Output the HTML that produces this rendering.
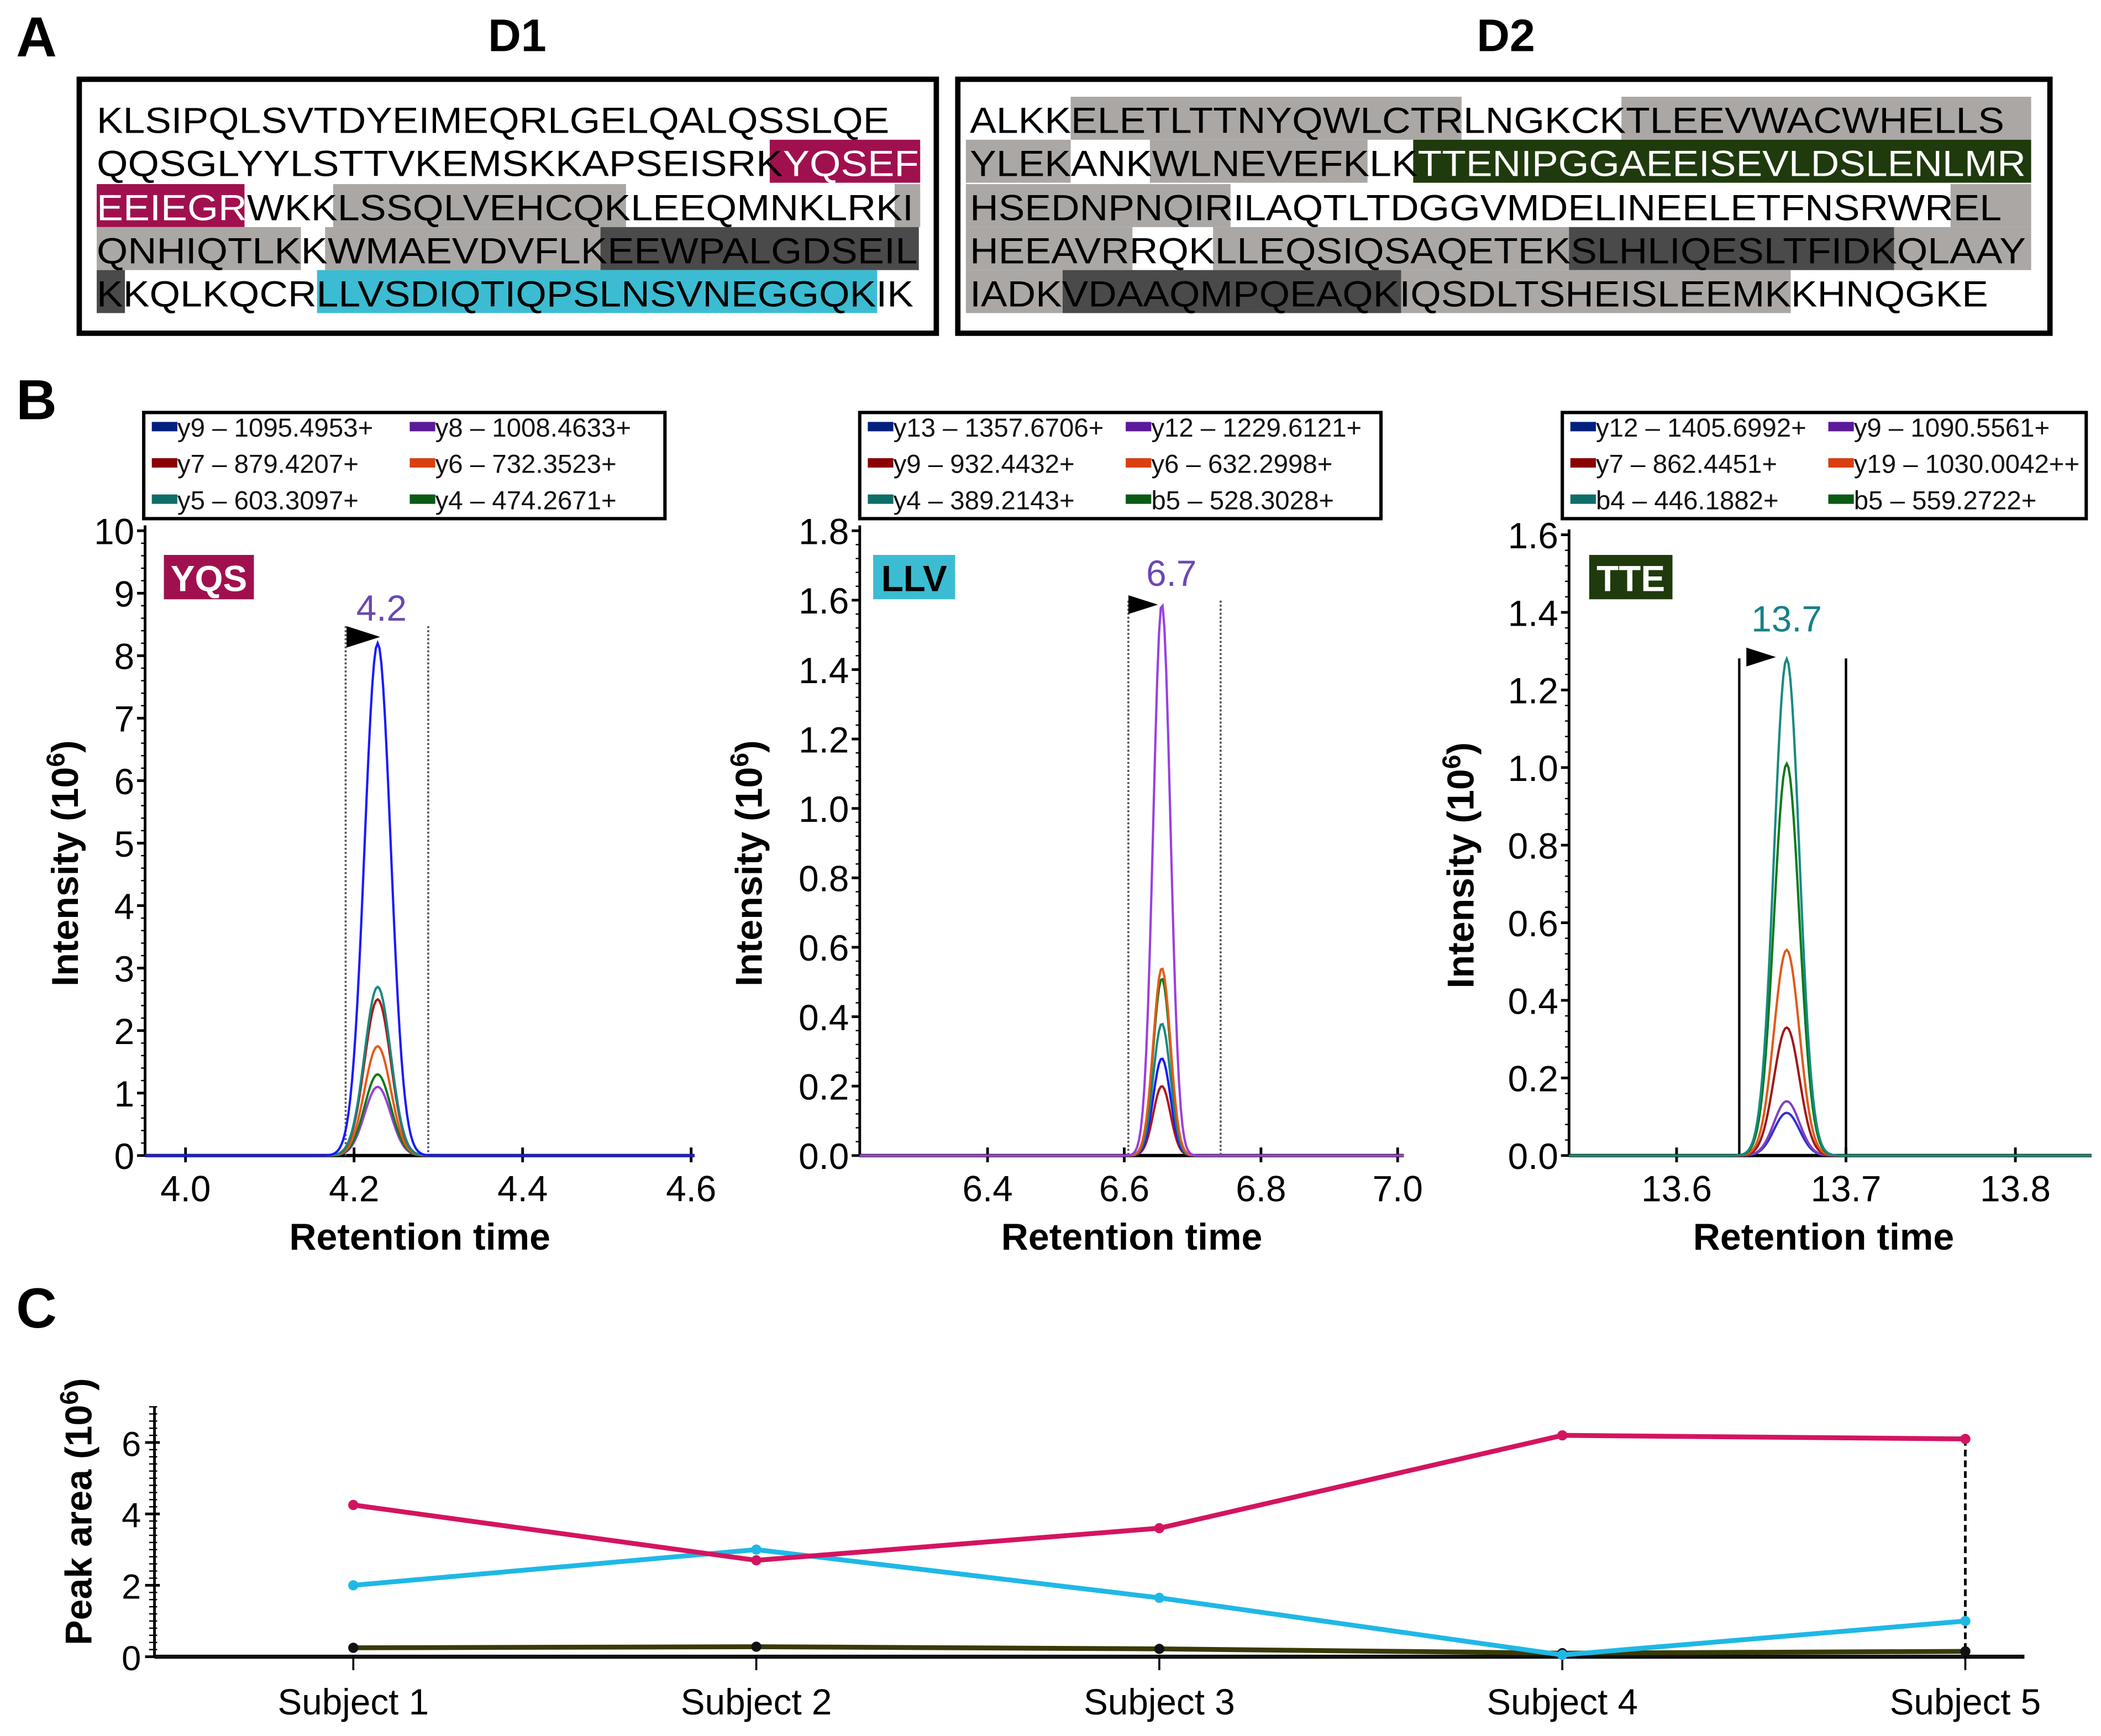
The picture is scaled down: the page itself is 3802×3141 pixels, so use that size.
<!DOCTYPE html>
<html><head><meta charset="utf-8">
<style>
html,body{margin:0;padding:0;background:#fff;}
svg{display:block;}
text{font-family:"Liberation Sans",Arial,sans-serif;}
</style></head>
<body>
<svg id="fig" xmlns="http://www.w3.org/2000/svg" width="3802" height="3141" viewBox="0 0 1564 1292" preserveAspectRatio="none">
<rect x="0" y="0" width="1564" height="1292" fill="#fff"/>
<g id="panelA">
  <text x="12" y="42" font-size="42" font-weight="bold">A</text>
  <text x="385" y="38" font-size="34" font-weight="bold" text-anchor="middle">D1</text>
  <text x="1121" y="38" font-size="34" font-weight="bold" text-anchor="middle">D2</text>
  <rect x="59" y="59" width="638" height="189" fill="none" stroke="#000" stroke-width="4"/>
  <rect x="713" y="59" width="813" height="189" fill="none" stroke="#000" stroke-width="4"/>
  <g id="hl"></g>
  <g id="seq"></g>
</g>
<g id="panelB">
  <text x="12" y="312" font-size="42" font-weight="bold">B</text>
</g>
<g id="panelC">
  <text x="12" y="988" font-size="42" font-weight="bold">C</text>
</g>
</svg>
<script>
const NS='http://www.w3.org/2000/svg';
function mk(tag,attrs,parent){const e=document.createElementNS(NS,tag);for(const k in attrs)e.setAttribute(k,attrs[k]);parent.appendChild(e);return e;}

// ---------- Panel A sequences ----------
const d1Lines=["KLSIPQLSVTDYEIMEQRLGELQALQSSLQE","QQSGLYYLSTTVKEMSKKAPSEISRKYQSEF","EEIEGRWKKLSSQLVEHCQKLEEQMNKLRKI","QNHIQTLKKWMAEVDVFLKEEWPALGDSEIL","KKQLKQCRLLVSDIQTIQPSLNSVNEGGQKIK"];
const d2Lines=["ALKKELETLTTNYQWLCTRLNGKCKTLEEVWACWHELLS","YLEKANKWLNEVEFKLKTTENIPGGAEEISEVLDSLENLMR","HSEDNPNQIRILAQTLTDGGVMDELINEELETFNSRWREL","HEEAVRRQKLLEQSIQSAQETEKSLHLIQESLTFIDKQLAAY","IADKVDAAQMPQEAQKIQSDLTSHEISLEEMKKHNQGKE"];
const rowTop=[72,104,137,169,201];
const hlG=document.getElementById('hl');
const seqG=document.getElementById('seq');
const GRAY='#aaa7a5',DARK='#4a4a4a',MAG='#a0104e',CYAN='#3cbcd2',GRN='#1f3a0c';
const hls=[
 [573,685,1,MAG],[72,182,2,MAG],[248,466,2,GRAY],[666,685,2,GRAY],
 [72,224,3,GRAY],[242,447,3,GRAY],[447,684,3,DARK],[72,93,4,DARK],[236,653,4,CYAN],
 [797,1088,0,GRAY],[1207,1512,0,GRAY],[719,797,1,GRAY],[856,1018,1,GRAY],[1052,1512,1,GRN],
 [719,916,2,GRAY],[1452,1512,2,GRAY],[719,843,3,GRAY],[903,1170,3,GRAY],[1168,1410,3,DARK],[1410,1512,3,GRAY],
 [719,791,4,GRAY],[791,1043,4,DARK],[1043,1333,4,GRAY]
];
hls.forEach(h=>{
 const r=mk('rect',{x:h[0],y:rowTop[h[2]],width:h[1]-h[0],height:32,fill:h[3]},hlG);
 
 
});
function seqLines(lines,x0,ends,white){
 lines.forEach((s,i)=>{
  const t=mk('text',{x:x0,y:rowTop[i]+27,'font-size':27,textLength:ends[i]-x0,lengthAdjust:'spacingAndGlyphs'},seqG);
  
  
  const w=white[i];
  if(!w){t.textContent=s;return;}
  w.forEach(seg=>{const ts=mk('tspan',seg[2]?{fill:'#fff'}:{},t);ts.textContent=s.slice(seg[0],seg[1]);});
 });
}
seqLines(d1Lines,72,[662,684,680,683,680],[null,[[0,26,0],[26,31,1]],[[0,6,1],[6,31,0]],null,null]);
seqLines(d2Lines,722,[1492,1508,1490,1508,1480],[null,[[0,17,0],[17,41,1]],null,null,null]);

// ---------- Panel B chromatograms ----------
const c1Labels=["y9 – 1095.4953+","y8 – 1008.4633+","y7 – 879.4207+","y6 – 732.3523+","y5 – 603.3097+","y4 – 474.2671+"];
const c1Heights=[8.2,1.1,2.5,1.75,2.7,1.3];
const c1Colors=["#1a1aff","#9a3fe0","#b01818","#e85a1a","#168a80","#0c7a1a"];
const c2Labels=["y13 – 1357.6706+","y12 – 1229.6121+","y9 – 932.4432+","y6 – 632.2998+","y4 – 389.2143+","b5 – 528.3028+"];
const c2Heights=[0.28,1.59,0.2,0.54,0.38,0.51];
const c2Colors=["#1a1aff","#9a3fe0","#b01818","#e85a1a","#168a80","#0c7a1a"];
const c3Labels=["y12 – 1405.6992+","y9 – 1090.5561+","y7 – 862.4451+","y19 – 1030.0042++","b4 – 446.1882+","b5 – 559.2722+"];
const c3Heights=[0.11,0.14,0.33,0.53,1.28,1.01];
const c3Colors=["#3030d0","#8040c0","#a01818","#e05a1a","#168a80","#0c7a1a"];
const swatch=["#002080","#5a1a9a","#8b0000","#d84010","#0f6e68","#0a5a14"];
const c1XTicks=["4.0","4.2","4.4","4.6"], c2XTicks=["6.4","6.6","6.8","7.0"], c3XTicks=["13.6","13.7","13.8"];
const c1YTicks=[0,1,2,3,4,5,6,7,8,9,10], c2YTicks=[0,0.2,0.4,0.6,0.8,1.0,1.2,1.4,1.6,1.8], c3YTicks=[0,0.2,0.4,0.6,0.8,1.0,1.2,1.4,1.6];

const charts=[
 {name:'yqs',labels:c1Labels,h:c1Heights,col:c1Colors,xt:c1XTicks,yt:c1YTicks,dec:0,ax0:108,ax1:517,xv0:3.952,xv1:4.604,yv1:10,yTop:395,center:4.228,sig:0.0155,minor:0.2,titleX:58,
  leg:[107,307,388],tag:['YQS',122,189,MAG,'#fff'],apexLabel:['4.2','#6a48b0',284,462],arrow:[258,466,283,482],bounds:[4.19,4.288],boundY:466,boundStyle:'dot',order:[1,5,3,2,4,0]},
 {name:'llv',labels:c2Labels,h:c2Heights,col:c2Colors,xt:c2XTicks,yt:c2YTicks,dec:1,ax0:640,ax1:1045,xv0:6.213,xv1:7.009,yv1:1.8,yTop:395,center:6.655,sig:0.0125,minor:0.04,titleX:567,
  leg:[640,307,388],tag:['LLV',650,711,CYAN,'#000'],apexLabel:['6.7','#6a48b0',872,436],arrow:[840,443,862,457],bounds:[6.606,6.741],boundY:447,boundStyle:'dot',order:[2,0,4,5,3,1]},
 {name:'tte',labels:c3Labels,h:c3Heights,col:c3Colors,xt:c3XTicks,yt:c3YTicks,dec:1,ax0:1168,ax1:1557,xv0:13.5365,xv1:13.845,yv1:1.6,yTop:398,center:13.665,sig:0.0075,minor:0.04,titleX:1097,
  leg:[1163,307,390],tag:['TTE',1183,1245,GRN,'#fff'],apexLabel:['13.7','#17808a',1330,470],arrow:[1300,482,1322,496],bounds:[13.637,13.7],boundY:490,boundStyle:'solid',order:[0,1,2,3,5,4]}
];
const pB=document.getElementById('panelB');
const Y0=860;
charts.forEach(c=>{
 const g=mk('g',{},pB);
 
 
 const X=v=>c.ax0+(v-c.xv0)/(c.xv1-c.xv0)*(c.ax1-c.ax0);
 const Y=v=>Y0-v/c.yv1*(Y0-c.yTop);
 const lb=mk('rect',{x:c.leg[0],y:c.leg[1],width:c.leg[2],height:79,fill:'#fff',stroke:'#000','stroke-width':2.5},g);
 
 
 c.labels.forEach((l,i)=>{
  const cx=c.leg[0]+6+(i%2)*192, cy=c.leg[1]+11+Math.floor(i/2)*27;
  const sw=mk('rect',{x:cx,y:cy-4,width:19,height:7,fill:swatch[i]},g);
  
  
  const t=mk('text',{x:cx+19,y:cy+7,'font-size':19.5,fill:'#111'},g);
  
  
  t.textContent=l;
 });
 const ya=mk('line',{x1:c.ax0,y1:c.yTop-4,x2:c.ax0,y2:Y0,stroke:'#000','stroke-width':2},g);
 
 
 const xa=mk('line',{x1:c.ax0,y1:Y0,x2:c.ax1,y2:Y0,stroke:'#000','stroke-width':2.5},g);
 
 
 for(let v=0;v<=c.yv1+1e-9;v+=c.minor){
  mk('line',{x1:c.ax0-3,y1:Y(v),x2:c.ax0,y2:Y(v),stroke:'#000','stroke-width':1},g);
 }
 c.yt.forEach(v=>{
  mk('line',{x1:c.ax0-6,y1:Y(v),x2:c.ax0,y2:Y(v),stroke:'#000','stroke-width':2},g);
  const t=mk('text',{x:c.ax0-8,y:Y(v)+10,'font-size':27,'text-anchor':'end'},g);
  
  
  t.textContent=v.toFixed(c.dec);
 });
 c.xt.forEach(s=>{
  const v=parseFloat(s);
  mk('line',{x1:X(v),y1:Y0-6,x2:X(v),y2:Y0+5,stroke:'#000','stroke-width':2},g);
  const t=mk('text',{x:X(v),y:Y0+34,'font-size':27,'text-anchor':'middle'},g);
  
  
  t.textContent=s;
 });
 const xt=mk('text',{x:(c.ax0+c.ax1)/2+(c.name==='tte'?-5:0),y:930,'font-size':28,'font-weight':'bold','text-anchor':'middle'},g);
 
 
 xt.textContent='Retention time';
 const yx=c.titleX, yy=(c.yTop+Y0)/2+15;
 const yt=mk('text',{x:yx,y:yy,'font-size':28,'font-weight':'bold','text-anchor':'middle',transform:`rotate(-90 ${yx} ${yy})`},g);
 
 
 yt.innerHTML='Intensity (10<tspan dy="-10" font-size="19">6</tspan><tspan dy="10">)</tspan>';
 const tr=mk('rect',{x:c.tag[1],y:413,width:c.tag[2]-c.tag[1],height:33,fill:c.tag[3]},g);
 
 
 const tt=mk('text',{x:(c.tag[1]+c.tag[2])/2,y:440,'font-size':27,'font-weight':'bold','text-anchor':'middle',fill:c.tag[4]},g);
 
 
 tt.textContent=c.tag[0];
 c.bounds.forEach(b=>{
  const l=mk('line',{x1:X(b),y1:c.boundY,x2:X(b),y2:Y0,stroke:c.boundStyle==='dot'?'#555':'#000','stroke-width':c.boundStyle==='dot'?1.5:1.8,'stroke-dasharray':c.boundStyle==='dot'?'1.5 1.5':'none'},g);
  
  
 });
 c.order.forEach(i=>{
  const hv=c.h[i];
  let d='';
  const N=300;
  for(let k=0;k<=N;k++){
   const xv=c.xv0+(c.xv1-c.xv0)*k/N;
   const yv=hv*Math.exp(-0.5*Math.pow((xv-c.center)/c.sig,2));
   d+=(k?'L':'M')+X(xv).toFixed(2)+' '+Y(yv).toFixed(2);
  }
  const p=mk('path',{d:d,fill:'none',stroke:c.col[i],'stroke-width':1.7},g);
  
  
 });
 const a=c.arrow;
 const ar=mk('polygon',{points:`${a[0]},${a[1]} ${a[2]},${(a[1]+a[3])/2} ${a[0]},${a[3]}`,fill:'#000'},g);
 
 
 const al=mk('text',{x:c.apexLabel[2],y:c.apexLabel[3],'font-size':27,'text-anchor':'middle',fill:c.apexLabel[1]},g);
 
 
 al.textContent=c.apexLabel[0];
});

// ---------- Panel C line chart ----------
const subjects=["Subject 1","Subject 2","Subject 3","Subject 4","Subject 5"];
const yqsArea=[4.25,2.7,3.6,6.2,6.1];
const llvArea=[2.0,3.0,1.65,0.05,1.0];
const tteArea=[0.25,0.28,0.22,0.1,0.15];
const cYTicks=[0,2,4,6];
const pC=document.getElementById('panelC');
const cx0=115,cx1=1507,cy0=1233,cyTop=1047,cyMax=7.0;
const CX=i=>263+i*300;
const CY=v=>cy0-v/cyMax*(cy0-cyTop);
const ya=mk('line',{x1:cx0,y1:cyTop,x2:cx0,y2:cy0,stroke:'#000','stroke-width':2},pC);


for(let v=0;v<=cyMax+1e-9;v+=0.2){mk('line',{x1:cx0-4,y1:CY(v),x2:cx0+2,y2:CY(v),stroke:'#000','stroke-width':1},pC);}
cYTicks.forEach(v=>{
 mk('line',{x1:cx0-7,y1:CY(v),x2:cx0+4,y2:CY(v),stroke:'#000','stroke-width':2},pC);
 const t=mk('text',{x:cx0-10,y:CY(v)+10,'font-size':26,'text-anchor':'end'},pC);
 
 
 t.textContent=v;
});
const xa=mk('line',{x1:cx0,y1:cy0,x2:cx1,y2:cy0,stroke:'#111','stroke-width':3},pC);


subjects.forEach((s,i)=>{
 mk('line',{x1:CX(i),y1:cy0,x2:CX(i),y2:cy0+10,stroke:'#000','stroke-width':1.5},pC);
 const t=mk('text',{x:CX(i),y:1276,'font-size':27,'text-anchor':'middle'},pC);
 
 
 t.textContent=s;
});
const cyx=68, cyy=1125;
const cyt=mk('text',{x:cyx,y:cyy,'font-size':28,'font-weight':'bold','text-anchor':'middle',transform:`rotate(-90 ${cyx} ${cyy})`},pC);


cyt.innerHTML='Peak area (10<tspan dy="-10" font-size="19">6</tspan><tspan dy="10">)</tspan>';
const dl=mk('line',{x1:CX(4),y1:CY(yqsArea[4]),x2:CX(4),y2:cy0,stroke:'#000','stroke-width':2,'stroke-dasharray':'5 3'},pC);


[[tteArea,'#3a3a08','tte'],[llvArea,'#1fb8e6','llv'],[yqsArea,'#d41460','yqs']].forEach(s=>{
 const pts=s[0].map((v,i)=>CX(i)+','+CY(v)).join(' ');
 const pl=mk('polyline',{points:pts,fill:'none',stroke:s[1],'stroke-width':3.6},pC);
 
 
 s[0].forEach((v,i)=>{
  const c=mk('circle',{cx:CX(i),cy:CY(v),r:3.8,fill:s[2]==='tte'?'#111':s[1]},pC);
  
  
 });
});
</script>
</body></html>
